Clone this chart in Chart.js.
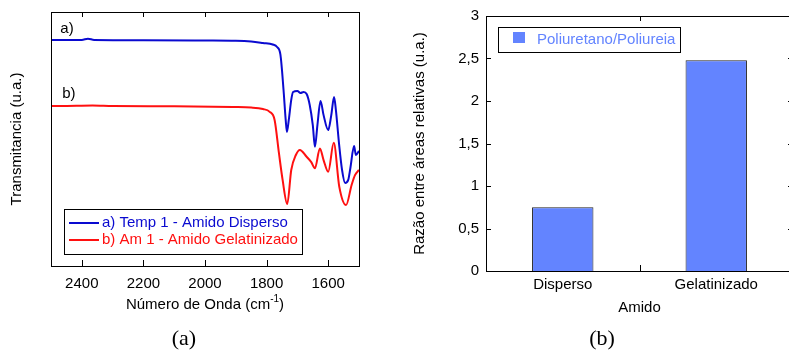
<!DOCTYPE html>
<html>
<head>
<meta charset="utf-8">
<script src="https://cdn.jsdelivr.net/npm/chart.js@4.4.1/dist/chart.umd.min.js"></script>
<style>
  html, body { margin: 0; padding: 0; background: #fff; }
  body { width: 789px; height: 350px; overflow: hidden; position: relative; }
  .painel { position: absolute; top: 0; height: 350px; width: 400px; }
  .rotulo { position: absolute; top: 324px; width: 60px; text-align: center;
            font-family: "Liberation Serif", "Times New Roman", serif; font-size: 22px; line-height: 28px; }
</style>
</head>
<body>
<div class="painel" style="left:0"><canvas id="graficoEspectro"></canvas></div>
<div class="painel" style="left:400px"><canvas id="graficoRazao"></canvas></div>
<div class="rotulo" style="left:154px">(a)</div>
<div class="rotulo" style="left:572px">(b)</div>

<script>
// (a) espectros FTIR - número de onda (cm-1) e transmitância relativa
const numeroOndaA = [2500, 2460, 2400, 2380, 2360, 2200, 2000, 1900, 1850, 1812, 1780, 1766, 1755, 1745, 1738, 1734, 1728, 1720, 1714, 1700, 1690, 1680, 1670, 1660, 1650, 1643, 1635, 1625, 1615, 1600, 1590, 1581, 1575, 1565, 1555, 1545, 1535, 1528, 1516, 1510, 1500];
const transmA = [89.0, 89.0, 89.0, 89.5, 89.0, 88.9, 88.8, 88.7, 88.4, 87.8, 87.2, 86.2, 83.1, 69.3, 57.5, 52.8, 57.5, 65.4, 68.5, 68.9, 68.1, 68.5, 67.7, 63.4, 55.5, 46.9, 55.5, 65.0, 59.4, 53.5, 59.4, 66.5, 61.4, 48.4, 37.8, 32.7, 33.9, 38.6, 47.2, 43.7, 45.3];
const numeroOndaB = [2500, 2470, 2365, 2300, 2100, 1910, 1850, 1812, 1790, 1774, 1760, 1748, 1733, 1720, 1705, 1692, 1670, 1655, 1643, 1627, 1615, 1600, 1582, 1564, 1542, 1524, 1513, 1500];
const transmB = [63.0, 63.0, 63.2, 63.0, 62.9, 62.6, 62.4, 61.8, 60.7, 57.5, 44.5, 33.9, 24.4, 37.8, 43.7, 45.7, 43.0, 40.9, 38.5, 46.3, 41.7, 37.1, 48.5, 31.2, 24.0, 31.9, 35.8, 37.8];
const rotulosSeries = ["a) Temp 1 - Amido Disperso", "b) Am 1 - Amido Gelatinizado"];
const ticksOnda = [2400, 2200, 2000, 1800, 1600];

// (b) razão entre áreas relativas
const categoriasAmido = ["Disperso", "Gelatinizado"];
const razaoAreas = [0.75, 2.48];
const rotuloRazao = "Poliuretano/Poliureia";

const FONTE = "'Liberation Sans', Arial, sans-serif";
Chart.defaults.font.family = FONTE;
Chart.defaults.font.size = 15;
Chart.defaults.color = "#000";

const AZUL = "#0a0ad0";
const VERMELHO = "#ff1010";
const AZUL_BARRA = "#6384ff";

// Moldura e marcas de escala voltadas para dentro
const moldura = {
  id: "moldura",
  afterDraw(chart, args, opts) {
    const { ctx, chartArea: { left, right, top, bottom } } = chart;
    ctx.save();
    ctx.strokeStyle = "#000";
    ctx.lineWidth = 1;
    ctx.strokeRect(left + 0.5, top + 0.5, right - left, bottom - top);
    const x = chart.scales.x;
    const y = chart.scales.y;
    ctx.beginPath();
    (opts.xMarcas || []).forEach((v) => {
      const px = Math.round(x.getPixelForValue(v)) + 0.5;
      ctx.moveTo(px, top); ctx.lineTo(px, top + 5);
      ctx.moveTo(px, bottom); ctx.lineTo(px, bottom - 6);
    });
    if (opts.yMarcas) {
      y.ticks.forEach((t) => {
        const py = Math.round(y.getPixelForValue(t.value)) + 0.5;
        ctx.moveTo(left, py); ctx.lineTo(left + 5, py);
        ctx.moveTo(right, py); ctx.lineTo(right - 5, py);
      });
    }
    ctx.stroke();
    ctx.restore();
  },
};

// Legenda da figura (a) desenhada dentro da área do gráfico
const legendaEspectro = {
  id: "legendaEspectro",
  afterDraw(chart) {
    const { ctx } = chart;
    const x = chart.scales.x, y = chart.scales.y;
    ctx.save();
    ctx.fillStyle = "#fff";
    ctx.fillRect(64, 209, 238, 45);
    ctx.strokeStyle = "#000";
    ctx.lineWidth = 1;
    ctx.strokeRect(64.5, 209.5, 238, 45);
    ctx.font = "15px " + FONTE;
    ctx.textBaseline = "middle";
    chart.data.datasets.forEach((ds, i) => {
      const ly = 223 + i * 17;
      ctx.strokeStyle = ds.borderColor;
      ctx.lineWidth = 2;
      ctx.beginPath(); ctx.moveTo(69, ly); ctx.lineTo(99, ly); ctx.stroke();
      ctx.fillStyle = ds.borderColor;
      ctx.fillText(ds.label, 102, ly);
    });
    // identificação das curvas
    ctx.fillStyle = "#000";
    ctx.textAlign = "center";
    ctx.fillText("a)", x.getPixelForValue(2448), y.getPixelForValue(93.3));
    ctx.fillText("b)", x.getPixelForValue(2442), y.getPixelForValue(67.7));
    // título do eixo x com expoente
    const cx = (chart.chartArea.left + chart.chartArea.right) / 2;
    const base = "Número de Onda (cm";
    const wBase = ctx.measureText(base).width;
    ctx.font = "10px " + FONTE;
    const wSup = ctx.measureText("-1").width;
    ctx.font = "15px " + FONTE;
    const wFim = ctx.measureText(")").width;
    const sx = cx - (wBase + wSup + wFim) / 2;
    ctx.textAlign = "left";
    ctx.fillText(base, sx, 305);
    ctx.font = "10px " + FONTE;
    ctx.fillText("-1", sx + wBase, 299);
    ctx.font = "15px " + FONTE;
    ctx.fillText(")", sx + wBase + wSup, 305);
    ctx.restore();
  },
};

// Legenda da figura (b)
const legendaRazao = {
  id: "legendaRazao",
  afterDraw(chart) {
    const { ctx } = chart;
    const ds = chart.data.datasets[0];
    ctx.save();
    ctx.fillStyle = "#fff";
    ctx.fillRect(98, 27, 182, 25);
    ctx.strokeStyle = "#000";
    ctx.lineWidth = 1;
    ctx.strokeRect(98.5, 27.5, 182, 25);
    ctx.fillStyle = ds.backgroundColor;
    ctx.fillRect(113, 32, 12, 11);
    ctx.font = "15px " + FONTE;
    ctx.textBaseline = "middle";
    ctx.fillText(ds.label, 137, 40);
    ctx.restore();
  },
};

new Chart(document.getElementById("graficoEspectro"), {
  type: "line",
  data: {
    datasets: [
      {
        label: rotulosSeries[0],
        data: numeroOndaA.map((v, i) => ({ x: v, y: transmA[i] })),
        borderColor: AZUL,
        borderWidth: 2,
        pointRadius: 0,
        cubicInterpolationMode: "monotone",
      },
      {
        label: rotulosSeries[1],
        data: numeroOndaB.map((v, i) => ({ x: v, y: transmB[i] })),
        borderColor: VERMELHO,
        borderWidth: 2,
        pointRadius: 0,
        cubicInterpolationMode: "monotone",
      },
    ],
  },
  options: {
    responsive: true,
    maintainAspectRatio: false,
    devicePixelRatio: 1,
    animation: false,
    layout: { padding: { top: 12, right: 41, left: 0, bottom: 0 } },
    plugins: {
      legend: { display: false },
      tooltip: { enabled: false },
      moldura: { xMarcas: ticksOnda },
    },
    scales: {
      x: {
        type: "linear",
        reverse: true,
        min: 1500,
        max: 2500,
        afterBuildTicks: (s) => { s.ticks = ticksOnda.map((v) => ({ value: v })); },
        ticks: { padding: 9, maxRotation: 0, callback: (v) => String(v) },
        grid: { display: false, drawTicks: false },
        border: { display: false },
        afterFit: (s) => { s.height = 84; },
      },
      y: {
        min: 0,
        max: 100,
        ticks: { display: false },
        grid: { display: false, drawTicks: false },
        border: { display: false },
        title: { display: true, text: "Transmitancia (u.a.)", padding: { top: 8, bottom: 0 } },
        afterFit: (s) => { s.width = 51; },
      },
    },
  },
  plugins: [moldura, legendaEspectro],
});

new Chart(document.getElementById("graficoRazao"), {
  type: "bar",
  data: {
    labels: categoriasAmido,
    datasets: [
      {
        label: rotuloRazao,
        data: razaoAreas,
        backgroundColor: AZUL_BARRA,
        borderColor: "#222",
        borderWidth: 1,
        barPercentage: 0.4,
        categoryPercentage: 1,
      },
    ],
  },
  options: {
    responsive: true,
    maintainAspectRatio: false,
    devicePixelRatio: 1,
    animation: false,
    layout: { padding: { top: 16, right: 7, left: 0, bottom: 0 } },
    plugins: {
      legend: { display: false },
      tooltip: { enabled: false },
      moldura: { xMarcas: [0.5], yMarcas: true },
    },
    scales: {
      x: {
        ticks: { padding: 5 },
        grid: { display: false, drawTicks: false },
        border: { display: false },
        title: { display: true, text: "Amido", padding: { top: 0, bottom: 33 } },
        afterFit: (s) => { s.height = 79; },
      },
      y: {
        min: 0,
        max: 3,
        ticks: { stepSize: 0.5, padding: 7, callback: (v) => String(v).replace(".", ",") },
        grid: { display: false, drawTicks: false },
        border: { display: false },
        title: { display: true, text: "Razão entre áreas relativas (u.a.)", padding: { top: 11, bottom: 0 } },
        afterFit: (s) => { s.width = 86; },
      },
    },
  },
  plugins: [moldura, legendaRazao],
});
</script>
</body>
</html>
